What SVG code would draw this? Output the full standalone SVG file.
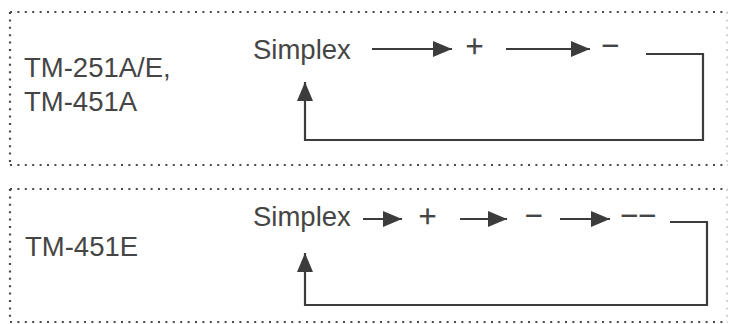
<svg xmlns="http://www.w3.org/2000/svg" width="731" height="324" viewBox="0 0 731 324">
  <style>
    .bg { fill: #ffffff; }
    .dot { stroke: #4a4a4a; stroke-width: 2.2; stroke-dasharray: 2 5.4; fill: none; }
    .dotfaint { stroke: #d4d4d4; stroke-width: 2; stroke-dasharray: 2 5.4; fill: none; }
    .lbl { font-family: "Liberation Sans", Arial, Helvetica, sans-serif; font-size: 27.5px; fill: #454545; }
    .sg { font-family: "Liberation Sans", Arial, Helvetica, sans-serif; font-size: 31px; fill: #454545; stroke: #454545; stroke-width: 0.25; }
    .conn { stroke: #3c3c3c; stroke-width: 2.2; fill: none; }
    .arr { marker-end: url(#head); }
  </style>
  <defs>
    <marker id="head" markerUnits="userSpaceOnUse" markerWidth="20" markerHeight="16" refX="19" refY="8" orient="auto" viewBox="0 0 20 16">
      <path d="M0,0 L19,8 L0,16 z" fill="#3c3c3c"/>
    </marker>
  </defs>
  <rect class="bg" x="0" y="0" width="731" height="324"/>

  <g id="panel1">
    <line class="dot" x1="10" y1="12" x2="728" y2="12"/>
    <line class="dot" x1="10" y1="165" x2="728" y2="165"/>
    <line class="dot" x1="10" y1="12" x2="10" y2="165"/>
    <line class="dotfaint" x1="727" y1="12" x2="727" y2="165"/>
  </g>
  <g id="panel2">
    <line class="dot" x1="10" y1="189" x2="728" y2="189"/>
    <line class="dot" x1="10" y1="322" x2="728" y2="322"/>
    <line class="dot" x1="10" y1="189" x2="10" y2="322"/>
    <line class="dotfaint" x1="727" y1="189" x2="727" y2="322"/>
  </g>

  <g id="label1">
    <text class="lbl" x="24" y="77">TM-251A/E,</text>
    <text class="lbl" x="24" y="111">TM-451A</text>
  </g>
  <g id="label2">
    <text class="lbl" x="25" y="256">TM-451E</text>
  </g>

  <g id="simplex1"><text class="lbl" x="253" y="59">Simplex</text></g>
  <g id="plus1"><text class="sg" x="465.5" y="57">+</text></g>
  <g id="minus1"><text class="sg" x="601" y="56">−</text></g>

  <g id="simplex2"><text class="lbl" x="253" y="226">Simplex</text></g>
  <g id="plus2"><text class="sg" x="418.5" y="227">+</text></g>
  <g id="minus2"><text class="sg" x="524.5" y="226">−</text></g>
  <g id="minusminus2"><text class="sg" x="620" y="226">−−</text></g>

  <g id="connectors">
    <line class="conn arr" x1="372" y1="49" x2="452" y2="49"/>
    <line class="conn arr" x1="506" y1="49" x2="590" y2="49"/>
    <polyline class="conn arr" points="646,54 703,54 703,140 305,140 305,82"/>
    <line class="conn arr" x1="363" y1="219" x2="402" y2="219"/>
    <line class="conn arr" x1="460" y1="219" x2="507" y2="219"/>
    <line class="conn arr" x1="560" y1="219" x2="610" y2="219"/>
    <polyline class="conn arr" points="670,222 707,222 707,305 305,305 305,253"/>
  </g>
</svg>
